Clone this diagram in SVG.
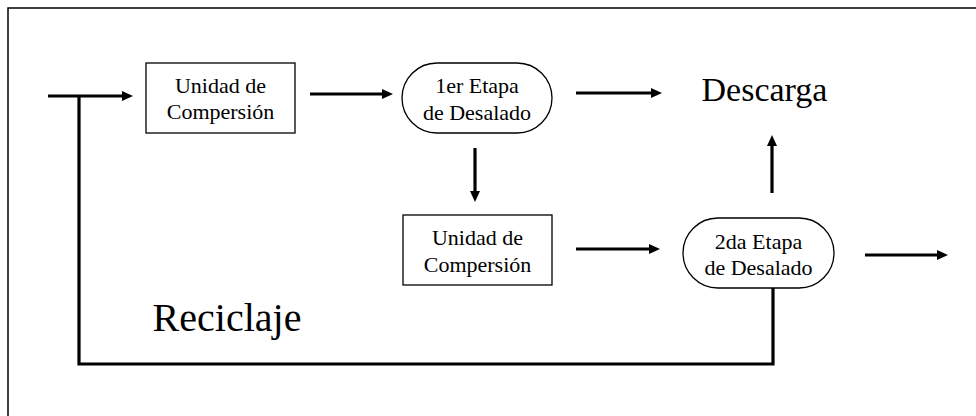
<svg xmlns="http://www.w3.org/2000/svg" width="976" height="416" viewBox="0 0 976 416">
<style>
.lbl{font-family:"Liberation Serif","Times New Roman",serif;font-size:22px;fill:#000;text-anchor:middle}
.big{font-family:"Liberation Serif","Times New Roman",serif;fill:#000;text-anchor:middle}
.box{fill:#fff;stroke:#000;stroke-width:1.3}
.ln{fill:none;stroke:#000;stroke-width:3.2}
</style>
<defs>
<marker id="ah" markerWidth="10" markerHeight="10" refX="0" refY="5" orient="auto" markerUnits="userSpaceOnUse" viewBox="0 0 10 10" overflow="visible">
<path d="M0,0 L11,5 L0,10 Z" fill="#000"/>
</marker>
</defs>
<rect x="8" y="8" width="990" height="430" fill="#fff" stroke="#000" stroke-width="1.5"/>
<g id="connectors">
<line class="ln" x1="48" y1="96" x2="122" y2="96" marker-end="url(#ah)"/>
<polyline class="ln" points="79,96 79,364 773,364 773,288"/>
<line class="ln" x1="310" y1="94" x2="382" y2="94" marker-end="url(#ah)"/>
<line class="ln" x1="576" y1="93" x2="651" y2="93" marker-end="url(#ah)"/>
<line class="ln" x1="475" y1="148" x2="475" y2="191" marker-end="url(#ah)"/>
<line class="ln" x1="576" y1="249" x2="649" y2="249" marker-end="url(#ah)"/>
<line class="ln" x1="772" y1="193" x2="772" y2="146" marker-end="url(#ah)"/>
<line class="ln" x1="865" y1="255" x2="937" y2="255" marker-end="url(#ah)"/>
</g>
<g id="unidad1" font-family="'Liberation Serif', 'Times New Roman', serif">
<rect class="box" x="146" y="63" width="149" height="70"/>
<text class="lbl" x="220.5" y="93">Unidad de</text>
<text class="lbl" x="220.5" y="119">Compersión</text>
</g>
<g id="etapa1" font-family="'Liberation Serif', 'Times New Roman', serif">
<rect class="box" x="402" y="63" width="150" height="70" rx="35" ry="35"/>
<text class="lbl" x="477" y="93">1er Etapa</text>
<text class="lbl" x="477" y="120">de Desalado</text>
</g>
<g id="unidad2" font-family="'Liberation Serif', 'Times New Roman', serif">
<rect class="box" x="403" y="215" width="149" height="70"/>
<text class="lbl" x="477.5" y="245">Unidad de</text>
<text class="lbl" x="477.5" y="272">Compersión</text>
</g>
<g id="etapa2" font-family="'Liberation Serif', 'Times New Roman', serif">
<rect class="box" x="683" y="218" width="151" height="70" rx="35" ry="35"/>
<text class="lbl" x="758.5" y="249">2da Etapa</text>
<text class="lbl" x="758.5" y="275">de Desalado</text>
</g>
<g id="descarga">
<text class="big" x="764.5" y="101" font-size="34">Descarga</text>
</g>
<g id="reciclaje">
<text class="big" x="227" y="331" font-size="40">Reciclaje</text>
</g>
</svg>
